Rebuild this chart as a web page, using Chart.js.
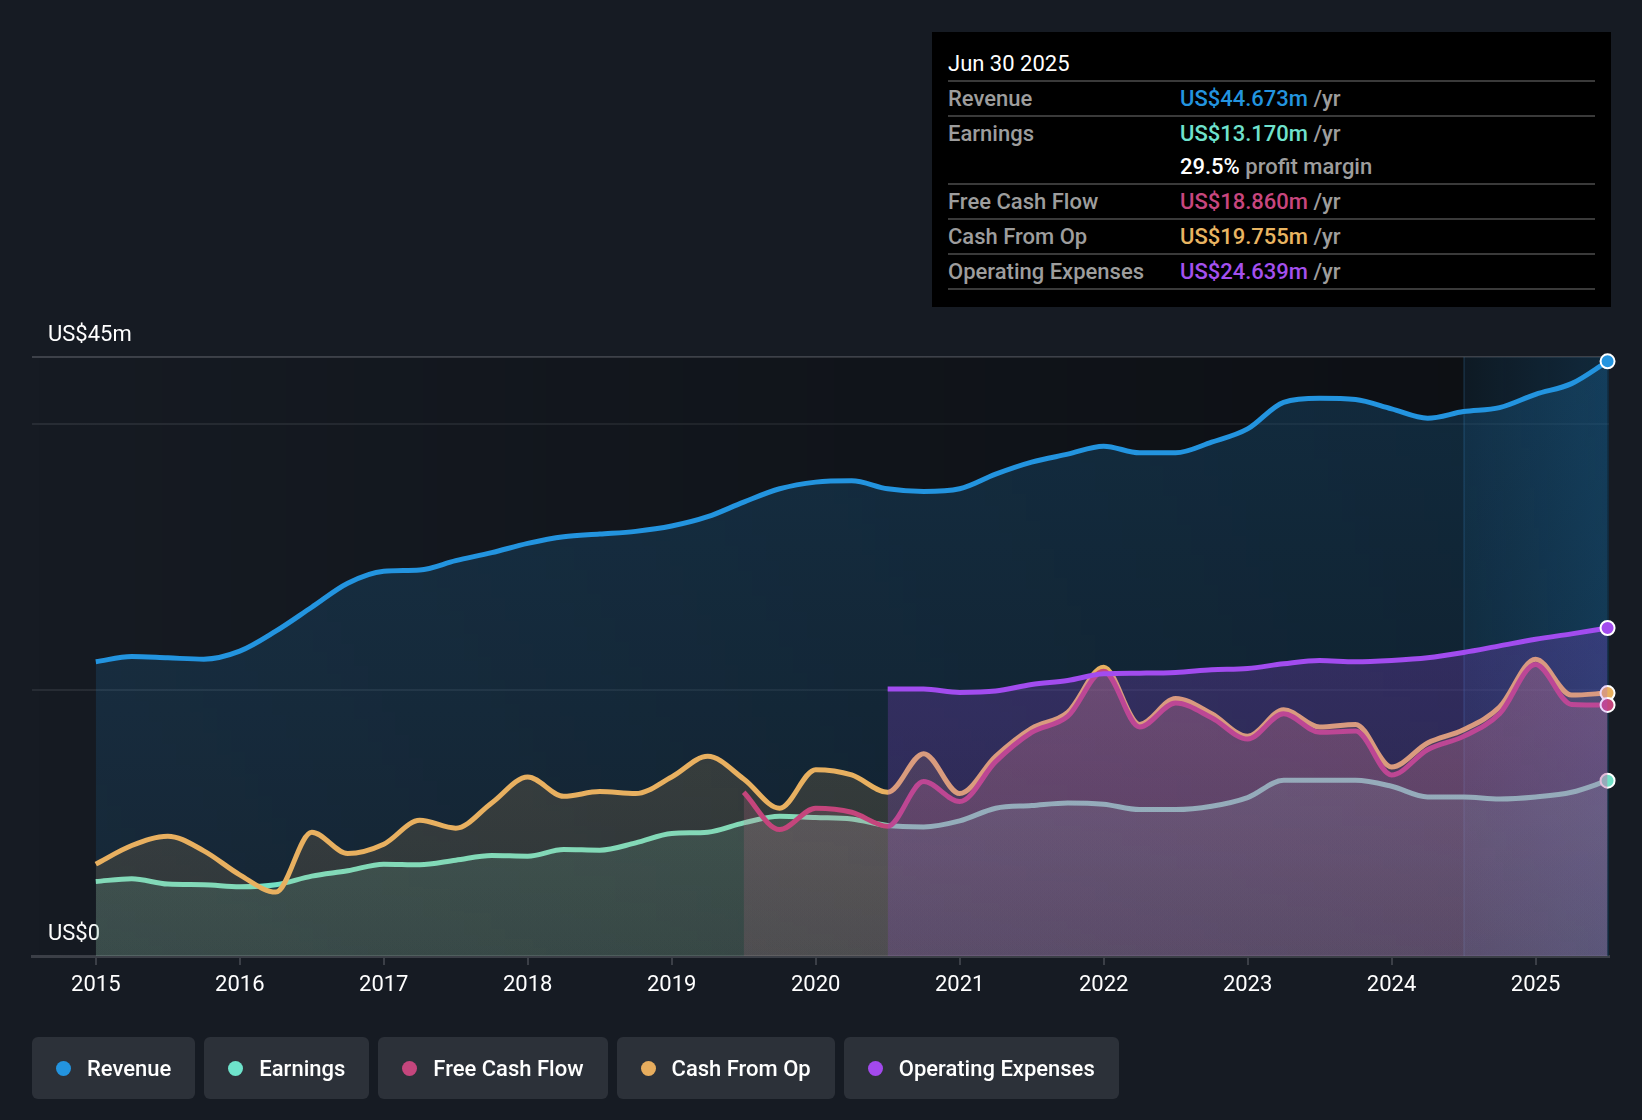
<!DOCTYPE html>
<html>
<head>
<meta charset="utf-8">
<script src="https://cdn.jsdelivr.net/npm/chart.js@4.4.1/dist/chart.umd.min.js"></script>
<style>
  html, body { margin: 0; padding: 0; background: #161b23; width: 1642px; height: 1120px; overflow: hidden; font-family: Roboto, 'Noto Sans', sans-serif; }
  #chart { position: absolute; left: 0; top: 0; }
  .tip { position: absolute; left: 932px; top: 32px; width: 679px; height: 275px; background: #000; box-sizing: border-box; padding: 0 16px; color: #9d9d9d; font-size: 22px; font-weight: 500; }
  .tip .head { height: 50px; padding-top: 19px; box-sizing: border-box; line-height: 26px; color: #fff; font-weight: 400; border-bottom: 2px solid #3a3a3a; }
  .tip .row { height: 33px; line-height: 33px; display: flex; border-bottom: 2px solid #3a3a3a; }
  .tip .row.nob { border-bottom: none; }
  .tip .lab { width: 232px; }
  .tip .val { font-weight: 500; }
  .tip .unit { font-weight: 500; color: #9d9d9d; }
  .legend { position: absolute; left: 32px; top: 1037px; display: flex; gap: 9px; }
  .pill { height: 62px; background: #2c3139; border-radius: 6px; display: flex; align-items: center; padding: 0 24px; box-sizing: border-box; color: #fff; font-size: 22px; font-weight: 500; }
  .dot { width: 15px; height: 15px; border-radius: 50%; margin-right: 16px; }
</style>
</head>
<body>
<canvas id="chart" width="1642" height="1120"></canvas>

<div class="tip">
  <div class="head">Jun 30 2025</div>
  <div class="row"><span class="lab">Revenue</span><span class="val" style="color:#2394df">US$44.673m</span>&nbsp;<span class="unit">/yr</span></div>
  <div class="row nob"><span class="lab">Earnings</span><span class="val" style="color:#6fe2cd">US$13.170m</span>&nbsp;<span class="unit">/yr</span></div>
  <div class="row"><span class="lab"></span><span class="val" style="color:#fff">29.5%</span>&nbsp;<span class="unit">profit margin</span></div>
  <div class="row"><span class="lab">Free Cash Flow</span><span class="val" style="color:#c8467e">US$18.860m</span>&nbsp;<span class="unit">/yr</span></div>
  <div class="row"><span class="lab">Cash From Op</span><span class="val" style="color:#e9b562">US$19.755m</span>&nbsp;<span class="unit">/yr</span></div>
  <div class="row"><span class="lab">Operating Expenses</span><span class="val" style="color:#a450ee">US$24.639m</span>&nbsp;<span class="unit">/yr</span></div>
</div>

<div class="legend">
  <div class="pill"><span class="dot" style="background:#2394df"></span>Revenue</div>
  <div class="pill"><span class="dot" style="background:#6ee3cb"></span>Earnings</div>
  <div class="pill"><span class="dot" style="background:#c5467d"></span>Free Cash Flow</div>
  <div class="pill"><span class="dot" style="background:#e7ad5e"></span>Cash From Op</div>
  <div class="pill"><span class="dot" style="background:#a349ed"></span>Operating Expenses</div>
</div>

<script>
// quarterly points, decimal years
const quarters = [
  2015, 2015.25, 2015.5, 2015.75, 2016, 2016.25, 2016.5, 2016.75,
  2017, 2017.25, 2017.5, 2017.75, 2018, 2018.25, 2018.5, 2018.75,
  2019, 2019.25, 2019.5, 2019.75, 2020, 2020.25, 2020.5, 2020.75,
  2021, 2021.25, 2021.5, 2021.75, 2022, 2022.25, 2022.5, 2022.75,
  2023, 2023.25, 2023.5, 2023.75, 2024, 2024.25, 2024.5, 2024.75,
  2025, 2025.25, 2025.5
];

const revenue = [
  22.1, 22.5, 22.4, 22.3, 22.9, 24.4, 26.2, 28.0,
  28.9, 29.0, 29.7, 30.3, 31.0, 31.5, 31.7, 31.9,
  32.3, 33.0, 34.1, 35.1, 35.6, 35.7, 35.1, 34.9,
  35.1, 36.2, 37.1, 37.7, 38.3, 37.8, 37.8, 38.6,
  39.6, 41.6, 41.9, 41.8, 41.1, 40.4, 40.9, 41.2,
  42.2, 43.0, 44.673
];

const earnings = [
  5.6, 5.8, 5.4, 5.35, 5.2, 5.35, 6.0, 6.4,
  6.9, 6.85, 7.2, 7.55, 7.5, 8.0, 7.95, 8.5,
  9.2, 9.3, 10.0, 10.5, 10.4, 10.3, 9.8, 9.7,
  10.15, 11.1, 11.3, 11.5, 11.4, 11.0, 11.0, 11.25,
  11.9, 13.2, 13.2, 13.2, 12.75, 11.95, 11.95, 11.8,
  11.95, 12.3, 13.17
];

const cashFromOp = [
  6.9, 8.3, 9.0, 7.9, 6.1, 4.8, 9.3, 7.7,
  8.4, 10.2, 9.6, 11.5, 13.45, 12.0, 12.35, 12.2,
  13.45, 15.0, 13.3, 11.1, 14.0, 13.6, 12.3, 15.2,
  12.2, 15.0, 17.1, 18.3, 21.7, 17.4, 19.35, 18.2,
  16.5, 18.5, 17.2, 17.4, 14.2, 16.0, 17.0, 18.7,
  22.3, 19.6, 19.755
];

const freeCashFlow = [
  null, null, null, null, null, null, null, null,
  null, null, null, null, null, null, null, null,
  null, null, 12.3, 9.5, 11.1, 10.8, 9.75, 13.1,
  11.6, 14.6, 16.8, 18.0, 21.4, 17.2, 19.0, 17.9,
  16.3, 18.2, 16.8, 16.9, 13.6, 15.5, 16.5, 18.2,
  21.9, 18.9, 18.86
];

const opExpenses = [
  null, null, null, null, null, null, null, null,
  null, null, null, null, null, null, null, null,
  null, null, null, null, null, null, 20.05, 20.05,
  19.8, 19.9, 20.4, 20.7, 21.2, 21.25, 21.3, 21.5,
  21.6, 21.95, 22.2, 22.1, 22.2, 22.4, 22.8, 23.3,
  23.8, 24.2, 24.639
];

const yearTicks = [2015, 2016, 2017, 2018, 2019, 2020, 2021, 2022, 2023, 2024, 2025];
const yTicks = [0, 20, 40, 45];
const lastYearStart = 2024.5;

function pts(values) {
  return quarters.map((q, i) => ({ x: q, y: values[i] }));
}

function fillGrad(rgb, top, bottom) {
  return (ctx) => {
    const area = ctx.chart.chartArea;
    if (!area) return 'transparent';
    const g = ctx.chart.ctx.createLinearGradient(0, area.top, 0, area.bottom);
    g.addColorStop(0, `rgba(${rgb},${top})`);
    g.addColorStop(1, `rgba(${rgb},${bottom})`);
    return g;
  };
}

function series(label, values, color, rgb, top, bottom, order) {
  const last = quarters.length - 1;
  return {
    label,
    data: pts(values),
    borderColor: color,
    borderWidth: 5,
    backgroundColor: fillGrad(rgb, top, bottom),
    fill: 'origin',
    clip: false,
    cubicInterpolationMode: 'monotone',
    pointRadius: (c) => (c.dataIndex === last ? 7 : 0),
    pointBackgroundColor: color,
    pointBorderColor: '#ffffff',
    pointBorderWidth: 2,
    order
  };
}

// dark plot background + highlighted last-year band
const plotBackground = {
  id: 'plotBackground',
  beforeDatasetsDraw(chart) {
    const { ctx, chartArea: a, scales } = chart;
    ctx.save();
    const g = ctx.createLinearGradient(a.left, 0, a.right, 0);
    g.addColorStop(0, 'rgba(0,0,0,0)');
    g.addColorStop(1, 'rgba(0,0,0,0.45)');
    ctx.fillStyle = g;
    ctx.fillRect(a.left, a.top, a.right - a.left, a.bottom - a.top);

    const bx = scales.x.getPixelForValue(lastYearStart);
    const bg = ctx.createLinearGradient(bx, 0, a.right, 0);
    bg.addColorStop(0, 'rgba(35,148,224,0.08)');
    bg.addColorStop(1, 'rgba(35,148,224,0.2)');
    ctx.fillStyle = bg;
    ctx.fillRect(bx, a.top, a.right - bx, a.bottom - a.top);
    ctx.strokeStyle = 'rgba(60,120,170,0.35)';
    ctx.lineWidth = 1;
    ctx.beginPath();
    ctx.moveTo(bx + 0.5, a.top);
    ctx.lineTo(bx + 0.5, a.bottom);
    ctx.stroke();
    ctx.restore();
  }
};

new Chart(document.getElementById('chart'), {
  type: 'line',
  data: {
    datasets: [
      series('Revenue', revenue, '#2394df', '35,148,224', 0.2, 0.1, 5),
      series('Earnings', earnings, '#72e0c6', '114,224,198', 0.22, 0.12, 4),
      series('Cash From Op', cashFromOp, '#e8b060', '232,176,96', 0.24, 0.12, 3),
      series('Free Cash Flow', freeCashFlow, '#c4457c', '200,110,140', 0.32, 0.16, 2),
      series('Operating Expenses', opExpenses, '#a24cef', '162,76,239', 0.3, 0.16, 1)
    ]
  },
  options: {
    responsive: false,
    animation: false,
    layout: { padding: { top: 357, right: 33, bottom: 104, left: 0 } },
    plugins: {
      legend: { display: false },
      tooltip: { enabled: false }
    },
    scales: {
      x: {
        type: 'linear',
        min: 2014.557,
        max: 2025.51,
        afterBuildTicks: (s) => { s.ticks = yearTicks.map(v => ({ value: v })); },
        afterFit: (s) => { s.height = 60; },
        grid: { drawOnChartArea: false, drawTicks: true, tickLength: 9, color: '#3b3f47', lineWidth: 2 },
        border: { display: true, color: '#3b3f47', width: 3 },
        ticks: {
          color: '#ffffff',
          padding: 7,
          maxRotation: 0,
          font: { family: 'Roboto', size: 22 },
          callback: (v) => String(v)
        }
      },
      y: {
        min: 0,
        max: 45,
        afterBuildTicks: (s) => { s.ticks = yTicks.map(v => ({ value: v })); },
        afterFit: (s) => { s.width = 32; },
        grid: {
          drawTicks: false,
          lineWidth: 2,
          color: (c) => c.tick.value === 45 ? '#3d4149' : (c.tick.value === 0 ? 'rgba(0,0,0,0)' : '#272c34')
        },
        border: { display: false },
        ticks: {
          mirror: true,
          padding: 16,
          labelOffset: -22,
          color: '#ffffff',
          font: { family: 'Roboto', size: 22 },
          callback: (v) => v === 45 ? 'US$45m' : (v === 0 ? 'US$0' : '')
        }
      }
    }
  },
  plugins: [plotBackground]
});
</script>
</body>
</html>
